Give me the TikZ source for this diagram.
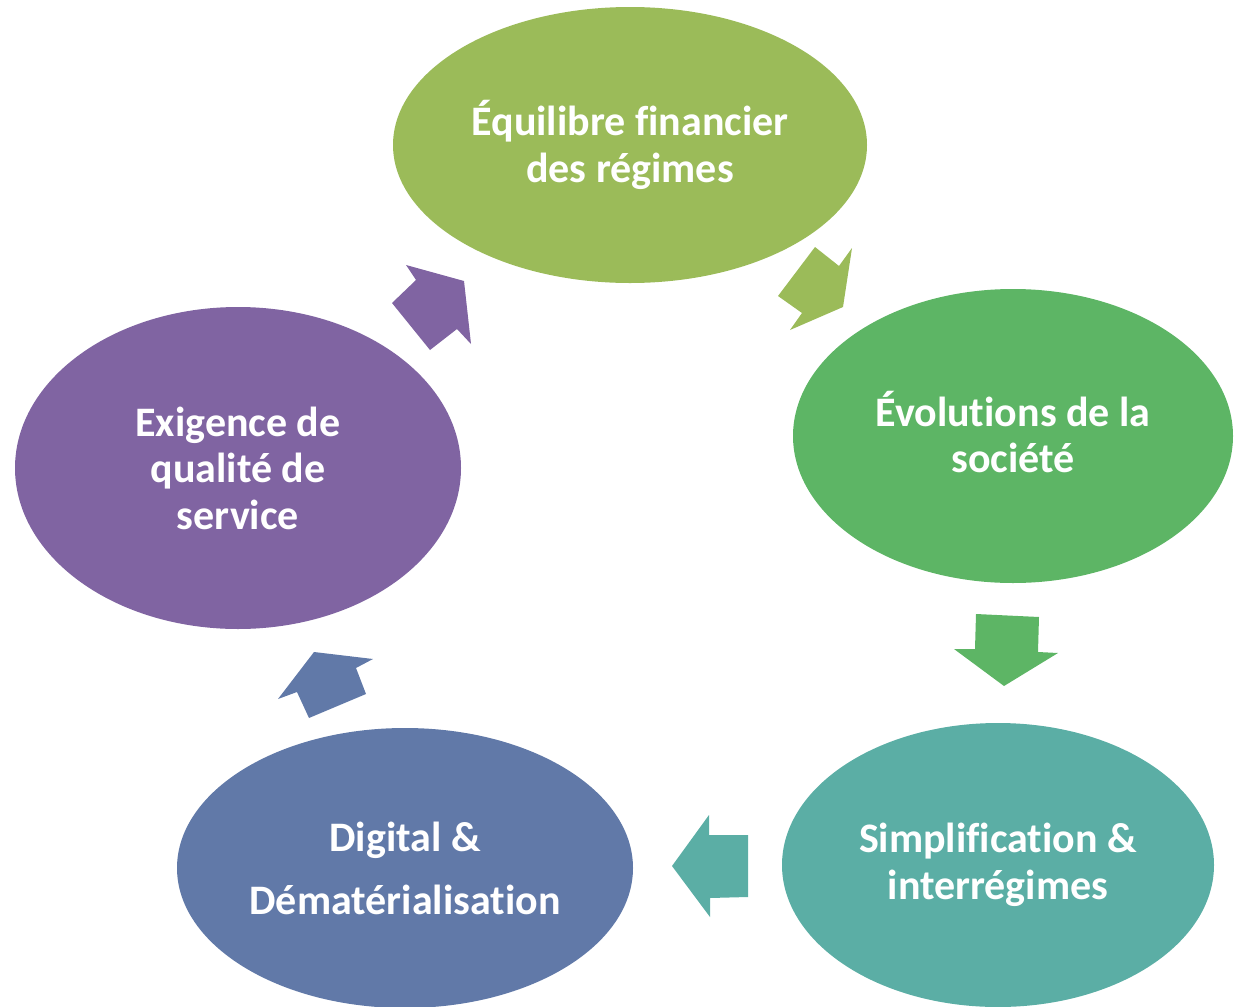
\documentclass[tikz,border=0pt]{standalone}
\usepackage{fontspec}
\setmainfont{Carlito}[Ligatures=NoCommon]
\usetikzlibrary{shapes.geometric}
\definecolor{cOlive}{HTML}{9BBB59}
\definecolor{cGreen}{HTML}{5DB565}
\definecolor{cTeal}{HTML}{5BAEA5}
\definecolor{cBlue}{HTML}{6179A8}
\definecolor{cPurple}{HTML}{8064A2}
\tikzset{
  bubble/.style={ellipse, draw=none, inner sep=0pt, text=white, align=center,
    font=\fontsize{42}{46.5}\selectfont\bfseries},
  bubbletext/.style={text=white, align=center, inner sep=0pt,
    font=\fontsize{42}{46.5}\selectfont\bfseries}
}
\begin{document}
\begin{tikzpicture}[x=1pt,y=-1pt]
\useasboundingbox (0,0) rectangle (1243,1007);
% ellipses
\node[bubble, fill=cOlive, minimum width=474, minimum height=276] (e1) at (630,145) {Équilibre financier\\des régimes};
\node[bubble, fill=cGreen, minimum width=440, minimum height=294] (e2) at (1013,436) {};
\node[bubbletext] (t2) at (1013,432) {Évolutions de la\\société};
\node[bubble, fill=cTeal, minimum width=432, minimum height=284] (e3) at (998,865) {Simplification \&\\interrégimes};
\node[bubble, fill=cBlue, minimum width=456, minimum height=280, font=\fontsize{42}{63}\selectfont\bfseries] (e4) at (405,868) {Digital \&\\Dématérialisation};
\node[bubble, fill=cPurple, minimum width=446, minimum height=322] (e5) at (238,468) {Exigence de\\qualité de\\service};
% block arrows
\fill[cOlive] (778,296) -- (815,247) -- (839,266) -- (852,248) -- (843,307) -- (790,330) -- (802,313) -- cycle;
\fill[cGreen] (976,614) -- (1039,617) -- (1038,652) -- (1058,653) -- (1004,686) -- (954,649) -- (975,649) -- cycle;
\fill[cTeal] (748,835) -- (748,897) -- (710,898) -- (710,917) -- (672,866) -- (709,815) -- (709,835) -- cycle;
\fill[cBlue] (366,694) -- (309,718) -- (297,692) -- (278,699) -- (314,652) -- (373,659) -- (356,668) -- cycle;
\fill[cPurple] (430,350) -- (392,303) -- (416,280) -- (406,265) -- (464,281) -- (471,344) -- (457,329) -- cycle;
\end{tikzpicture}
\end{document}
